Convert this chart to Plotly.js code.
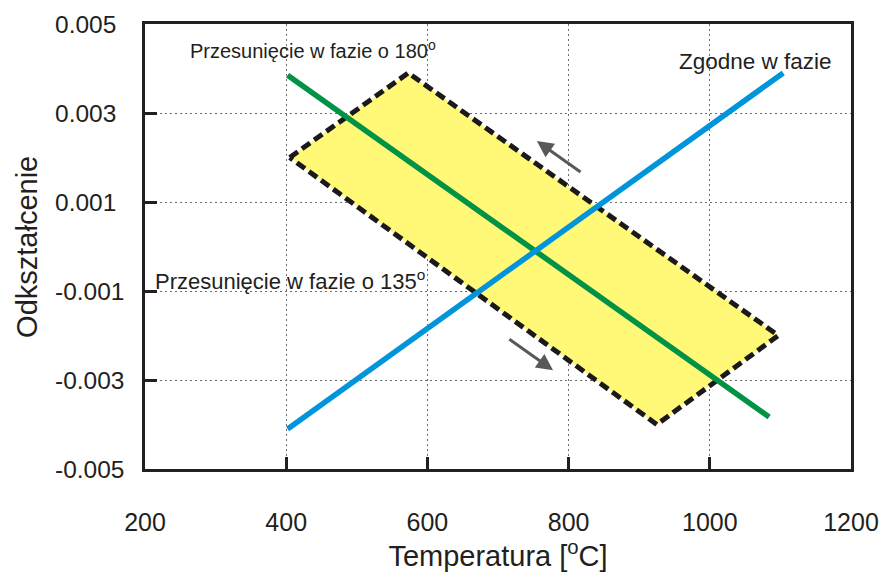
<!DOCTYPE html>
<html>
<head>
<meta charset="utf-8">
<script src="https://cdn.plot.ly/plotly-3.0.1.min.js"></script>
<style>
  html, body { margin: 0; padding: 0; background: #ffffff; }
  #chart { width: 879px; height: 572px; }
</style>
</head>
<body>
<div id="chart"></div>
<script>
// Temperature (°C) and strain values for the two TMF cycles
const inPhaseT = [402, 1104];
const inPhaseStrain = [-0.0041, 0.0039];

const outPhaseT = [402, 1084];
const outPhaseStrain = [0.00385, -0.00383];

// 135° out-of-phase loop (closed polygon)
const loopT = [405, 573, 1097, 925, 405];
const loopStrain = [0.0020, 0.0039, -0.0020, -0.0040, 0.0020];

// Direction arrows along the 135° loop: [tailT, tailStrain, headT, headStrain]
const arrowUp = [819, 0.00165, 755, 0.00237];
const arrowDown = [714, -0.00206, 778, -0.00278];

// Axis ticks
const xTickVals = [200, 400, 600, 800, 1000, 1200];
const xTickText = ['200', '400', '600', '800', '1000', '1200'];
const yTickVals = [0.005, 0.003, 0.001, -0.001, -0.003, -0.005];
const yTickText = ['0.005', '0.003', '0.001', '-0.001', '-0.003', '-0.005'];

// Curve labels: [T, strain, text, font size]
const labels = [
  [261, 0.00442, 'Przesunięcie w fazie o 180<sup>o</sup>', 20],
  [211, -0.00075, 'Przesunięcie w fazie o 135<sup>o</sup>', 22],
  [953, 0.00415, 'Zgodne w fazie', 22.5]
];

const ink = '#231f20';
const fontFamily = '"Liberation Sans", Arial, Helvetica, sans-serif';

const traces = [
  {
    x: loopT, y: loopStrain, mode: 'lines', fill: 'toself',
    fillcolor: '#fff977',
    line: { color: '#1a1a1a', width: 5, dash: '10px,5px' },
    hoverinfo: 'skip', showlegend: false
  },
  {
    x: outPhaseT, y: outPhaseStrain, mode: 'lines',
    line: { color: '#009245', width: 5.5 },
    hoverinfo: 'skip', showlegend: false
  },
  {
    x: inPhaseT, y: inPhaseStrain, mode: 'lines',
    line: { color: '#0095da', width: 5.5 },
    hoverinfo: 'skip', showlegend: false
  }
];

const annotations = [];

// left-aligned strain tick labels
yTickVals.forEach((v, i) => {
  annotations.push({
    xref: 'paper', yref: 'y', x: -0.131, y: v,
    xanchor: 'left', yanchor: 'middle', showarrow: false,
    text: yTickText[i], font: { family: fontFamily, size: 24.5, color: ink }
  });
});

// vertical axis title
annotations.push({
  xref: 'paper', yref: 'paper', x: -0.168, y: 0.5,
  xanchor: 'center', yanchor: 'middle', showarrow: false, textangle: -90,
  text: 'Odkształcenie', font: { family: fontFamily, size: 29, color: ink }
});

labels.forEach(l => {
  annotations.push({
    xref: 'x', yref: 'y', x: l[0], y: l[1],
    xanchor: 'left', yanchor: 'middle', showarrow: false,
    text: l[2], font: { family: fontFamily, size: l[3], color: ink }
  });
});

[arrowUp, arrowDown].forEach(a => {
  annotations.push({
    xref: 'x', yref: 'y', axref: 'x', ayref: 'y',
    x: a[2], y: a[3], ax: a[0], ay: a[1],
    text: '', showarrow: true, arrowhead: 2, arrowsize: 1.1,
    arrowwidth: 3, arrowcolor: '#58595b'
  });
});

const axisCommon = {
  showline: true, mirror: true, linewidth: 3, linecolor: ink,
  ticks: 'inside', ticklen: 12, tickwidth: 3, tickcolor: ink,
  showgrid: true, gridcolor: '#6d6d6d', gridwidth: 1, griddash: '2px,3px',
  zeroline: false, fixedrange: true
};

const layout = {
  width: 879, height: 572,
  margin: { l: 145, r: 28, t: 24, b: 103 },
  paper_bgcolor: '#ffffff', plot_bgcolor: '#ffffff',
  font: { family: fontFamily, color: ink },
  showlegend: false,
  xaxis: Object.assign({}, axisCommon, {
    range: [200, 1200],
    tickmode: 'array', tickvals: xTickVals, ticktext: xTickText,
    tickfont: { family: fontFamily, size: 25, color: ink },
    ticklabelstandoff: 29,
    title: { text: 'Temperatura [<sup>o</sup>C]', font: { family: fontFamily, size: 29, color: ink }, standoff: 8 }
  }),
  yaxis: Object.assign({}, axisCommon, {
    range: [-0.005, 0.005],
    tickmode: 'array', tickvals: yTickVals,
    showticklabels: false
  }),
  annotations: annotations
};

Plotly.newPlot('chart', traces, layout, { displayModeBar: false, staticPlot: true });
</script>
</body>
</html>
